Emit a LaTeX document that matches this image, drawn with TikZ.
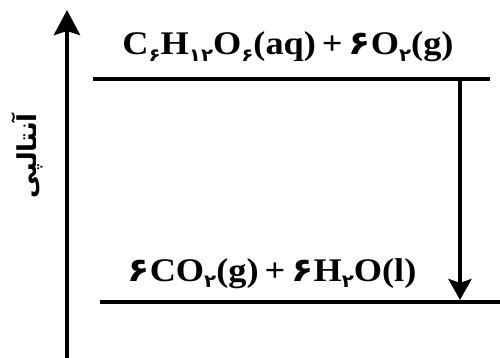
\documentclass[tikz,border=0pt]{standalone}
\usepackage{fontspec}
\setmainfont{Liberation Serif}
\newfontfamily\arabicfont[Script=Arabic]{DejaVu Sans}
\TeXXeTstate=1
\usetikzlibrary{arrows.meta}
\newcommand\fd[1]{{\arabicfont\bfseries #1}}
\newcommand\sbs[1]{\raisebox{-0.45ex}{\fontsize{18}{18}\selectfont\arabicfont\bfseries #1}}
\tikzset{
  level/.style={line width=4pt},
  axis/.style={line width=4.5pt,-{Stealth[length=25pt,width=26pt,inset=4pt]}},
  change/.style={line width=4.5pt,-{Stealth[length=21pt,width=23pt,inset=4pt]}},
  eq/.style={font=\fontsize{33}{33}\selectfont\bfseries,inner sep=0pt,anchor=base,xscale=1.1}
}
\begin{document}
\begin{tikzpicture}[x=1pt,y=-1pt]
\useasboundingbox (0,0) rectangle (500,358);
\coordinate (ab) at (67,358);
\coordinate (at) at (67,10);
\draw[axis] (ab) -- (at);
\node[rotate=90,font=\fontsize{26}{26}\selectfont\arabicfont\bfseries,inner sep=0pt] (lab) at (27,156) {\beginR آنتالپی\endR};
\coordinate (t1) at (93,79);
\coordinate (t2) at (490,79);
\draw[level] (t1) -- (t2);
\coordinate (b1) at (100,302);
\coordinate (b2) at (500,302);
\draw[level] (b1) -- (b2);
\node[eq] (top) at (288,55) {C\sbs{۶}H\sbs{۱۲}O\sbs{۶}(aq)\,+\,\fd{۶}O\sbs{۲}(g)};
\node[eq] (bot) at (272,281) {\fd{۶}CO\sbs{۲}(g)\,+\,\fd{۶}H\sbs{۲}O(l)};
\coordinate (d1) at (460,79);
\coordinate (d2) at (460,300);
\draw[change] (d1) -- (d2);
\end{tikzpicture}
\end{document}
